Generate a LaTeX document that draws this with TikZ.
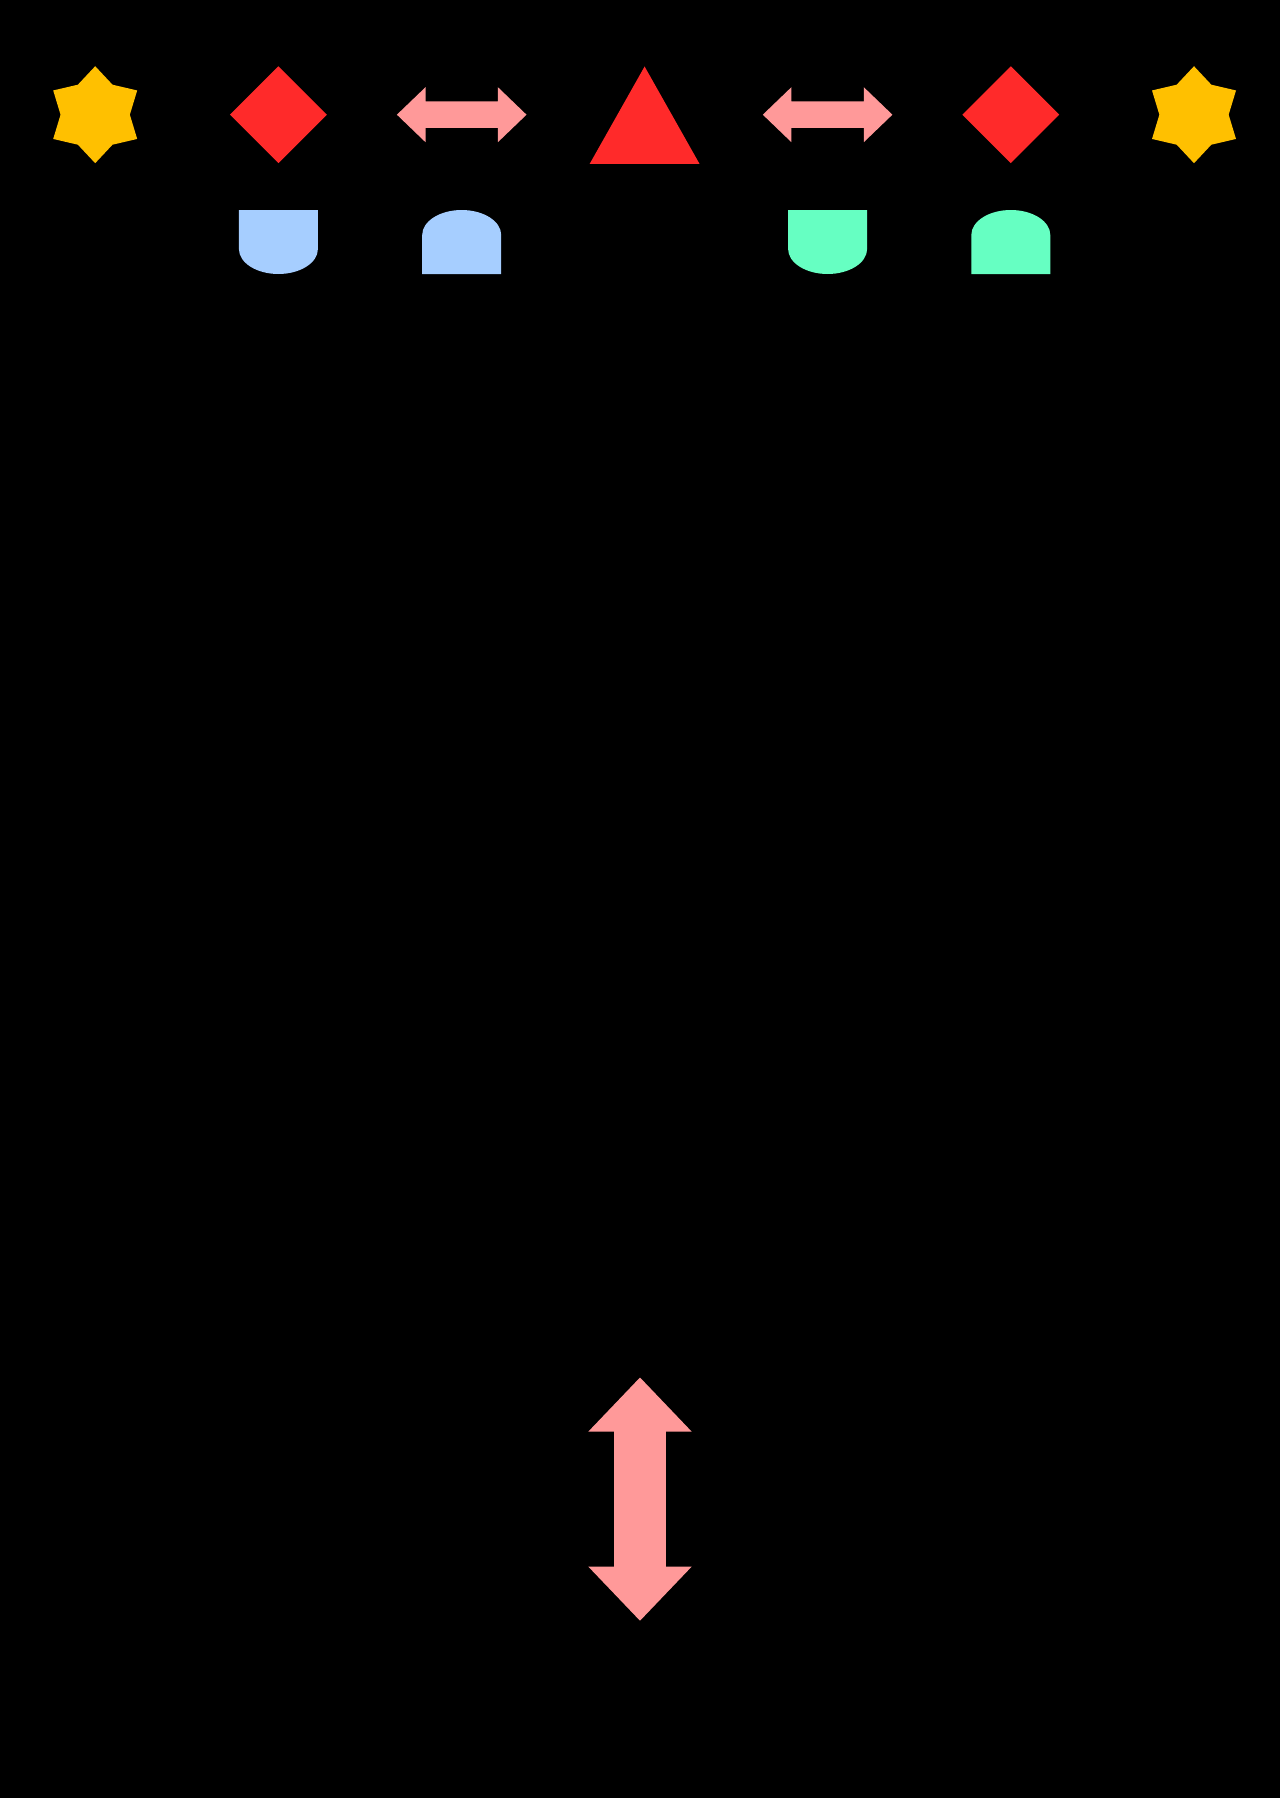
\documentclass[tikz,border=0pt]{standalone}
\usetikzlibrary{shapes.geometric,positioning}
\definecolor{stargold}{RGB}{255,192,0}
\definecolor{gemred}{RGB}{255,42,42}
\definecolor{arrowpink}{RGB}{255,153,153}
\definecolor{cupblue}{RGB}{166,206,255}
\definecolor{cupgreen}{RGB}{102,255,194}

\begin{document}
\begin{tikzpicture}
    [x=1pt,y=-1pt,
     sixstar/.style={star,star points=6,star point ratio=1.4,fill=stargold,
                     minimum size=97pt,inner sep=0pt},
     gem/.style={diamond,fill=gemred,minimum width=97pt,minimum height=97pt,inner sep=0pt}]
    \fill[black] (0,0) rectangle (1280,1798);

    % top row
    \node[sixstar] (starL) at (95.2,114.7) {};
    \node[gem] (gemL) at (278.4,114.7) {};
    \coordinate (arrL) at (461.7,114.7);
    \coordinate (tri) at (644.6,114.7);
    \coordinate (arrR) at (827.6,114.7);
    \node[gem] (gemR) at (1010.8,114.7) {};
    \node[sixstar] (starR) at (1194,114.7) {};

    \fill[gemred,shift={(tri)}] (0,-48.2) -- (55,49.3) -- (-55,49.3) -- cycle;
    \foreach \c in {arrL,arrR}
        \fill[arrowpink,shift={(\c)}] (-64.8,0) -- (-36.2,-27.5) -- (-36.2,-13.3)
            -- (36.2,-13.3) -- (36.2,-27.5) -- (64.8,0) -- (36.2,27.5) -- (36.2,13.3)
            -- (-36.2,13.3) -- (-36.2,27.5) -- cycle;

    % cups and domes
    \coordinate (cupL) at (278.4,242);
    \coordinate (domeL) at (461.7,242);
    \coordinate (cupR) at (827.6,242);
    \coordinate (domeR) at (1010.8,242);
    \fill[cupblue,shift={(cupL)}] (-39.5,-32) -- (39.5,-32) -- (39.5,7)
        arc[start angle=0,end angle=180,x radius=39.5,y radius=25] -- cycle;
    \fill[cupblue,shift={(domeL)}] (-39.5,32) -- (-39.5,-7)
        arc[start angle=180,end angle=360,x radius=39.5,y radius=25] -- (39.5,32) -- cycle;
    \fill[cupgreen,shift={(cupR)}] (-39.5,-32) -- (39.5,-32) -- (39.5,7)
        arc[start angle=0,end angle=180,x radius=39.5,y radius=25] -- cycle;
    \fill[cupgreen,shift={(domeR)}] (-39.5,32) -- (-39.5,-7)
        arc[start angle=180,end angle=360,x radius=39.5,y radius=25] -- (39.5,32) -- cycle;

    % bottom arrow
    \coordinate (arrV) at (640,1499.1);
    \fill[arrowpink,shift={(arrV)}] (0,-121.6) -- (51.6,-67.6) -- (25.8,-67.6)
        -- (25.8,67.6) -- (51.6,67.6) -- (0,121.6) -- (-51.6,67.6) -- (-25.8,67.6)
        -- (-25.8,-67.6) -- (-51.6,-67.6) -- cycle;
\end{tikzpicture}
\end{document}
